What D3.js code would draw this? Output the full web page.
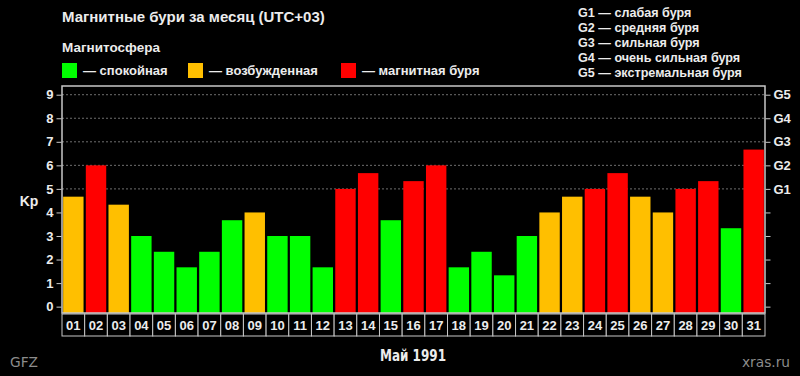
<!DOCTYPE html>
<html>
<head>
<meta charset="utf-8">
<script src="https://cdn.jsdelivr.net/npm/d3@7"></script>
<style>
  body { margin: 0; background: #000; }
  svg { display: block; font-family: "Liberation Sans", Arial, sans-serif; font-weight: bold; }
</style>
</head>
<body>
<div id="chart"></div>
<script>
// data
const days = ["01","02","03","04","05","06","07","08","09","10","11","12","13","14","15","16",
              "17","18","19","20","21","22","23","24","25","26","27","28","29","30","31"];
const kp = [4.67, 6, 4.33, 3, 2.33, 1.67, 2.33, 3.67, 4, 3, 3, 1.67, 5, 5.67, 3.67, 5.33,
            6, 1.67, 2.33, 1.33, 3, 4, 4.67, 5, 5.67, 4.67, 4, 5, 5.33, 3.33, 6.67];
const kpTicks = [0, 1, 2, 3, 4, 5, 6, 7, 8, 9];
const gLevels = ["G1", "G2", "G3", "G4", "G5"];
const gDesc = ["слабая буря", "средняя буря", "сильная буря", "очень сильная буря", "экстремальная буря"];
const states = ["спокойная", "возбужденная", "магнитная буря"];
const stateColors = ["#00ff00", "#ffbf00", "#ff0000"];

function stateOf(v) {
    if (v >= 5) return 2;
    if (v >= 4) return 1;
    return 0;
}

const W = 800, H = 376;
const plot = {left: 62, right: 765, top: 86, bottom: 313};
const textColor = "#ececec";
const narrow = "'Liberation Sans Narrow', 'DejaVu Sans Condensed', sans-serif";

const svg = d3.select("#chart").append("svg")
    .attr("width", W)
    .attr("height", H);

svg.append("rect").attr("width", W).attr("height", H).attr("fill", "#000");

// scales
const x = d3.scaleBand()
    .domain(days)
    .range([plot.left, plot.right])
    .paddingInner(0.1)
    .paddingOuter(0.05);

const y = d3.scaleLinear()
    .domain([-0.27, 9.37])
    .range([plot.bottom, plot.top]);

// title + legend
svg.append("text")
    .attr("x", 62).attr("y", 22)
    .attr("fill", textColor).attr("font-size", 15)
    .text("Магнитные бури за месяц (UTC+03)");

svg.append("text")
    .attr("x", 62).attr("y", 52)
    .attr("fill", textColor).attr("font-size", 13.5)
    .text("Магнитосфера");

const legendX = [62, 188, 341];
states.forEach((s, i) => {
    svg.append("rect")
        .attr("x", legendX[i]).attr("y", 63)
        .attr("width", 15).attr("height", 15)
        .attr("fill", stateColors[i]);
    svg.append("text")
        .attr("x", legendX[i] + 21).attr("y", 75)
        .attr("fill", textColor).attr("font-size", 13)
        .text("— " + s);
});

gLevels.forEach((g, i) => {
    svg.append("text")
        .attr("x", 578).attr("y", 17 + i * 15)
        .attr("fill", textColor).attr("font-size", 12.6)
        .text(g + " — " + gDesc[i]);
});

// grid lines at G levels
svg.append("g")
    .selectAll("line")
    .data(kpTicks.filter(d => d >= 5))
    .join("line")
    .attr("x1", plot.left).attr("x2", plot.right)
    .attr("y1", d => y(d)).attr("y2", d => y(d))
    .attr("stroke", "#6e6e6e")
    .attr("stroke-width", 1)
    .attr("stroke-dasharray", "2,2");

// bars
svg.append("g")
    .selectAll("rect")
    .data(kp)
    .join("rect")
    .attr("x", (d, i) => x(days[i]))
    .attr("width", x.bandwidth())
    .attr("y", d => y(d))
    .attr("height", d => plot.bottom - y(d))
    .attr("fill", d => stateColors[stateOf(d)]);

// frame
svg.append("rect")
    .attr("x", plot.left).attr("y", plot.top)
    .attr("width", plot.right - plot.left)
    .attr("height", plot.bottom - plot.top)
    .attr("fill", "none")
    .attr("stroke", "#c8c8c8")
    .attr("stroke-width", 1.5);

// left axis
const left = svg.append("g")
    .attr("transform", `translate(${plot.left - 0.5},0)`)
    .call(d3.axisLeft(y).tickValues(kpTicks).tickSize(5).tickPadding(3).tickFormat(d3.format("d")));
left.select(".domain").remove();
left.selectAll("line").attr("stroke", "#c8c8c8");
left.selectAll("text").attr("fill", textColor).attr("font-size", 13).attr("font-family", null);

// right axis
const right = svg.append("g")
    .attr("transform", `translate(${plot.right + 0.5},0)`)
    .call(d3.axisRight(y).tickValues(kpTicks).tickSize(5).tickPadding(3)
        .tickFormat(d => d >= 5 ? gLevels[d - 5] : ""));
right.select(".domain").remove();
right.selectAll("line").attr("stroke", "#c8c8c8");
right.selectAll("text").attr("fill", textColor).attr("font-size", 13).attr("font-family", null);

svg.append("text")
    .attr("x", 29).attr("y", 206)
    .attr("text-anchor", "middle")
    .attr("fill", textColor).attr("font-size", 14)
    .text("Kp");

// day cells under the plot
const step = x.step();
const cells = svg.append("g")
    .selectAll("g")
    .data(days)
    .join("g")
    .attr("transform", (d, i) => `translate(${plot.left + i * step},314)`);
cells.append("rect")
    .attr("width", step).attr("height", 22)
    .attr("fill", "#000")
    .attr("stroke", "#c8c8c8")
    .attr("stroke-width", 1);
cells.append("text")
    .attr("x", step / 2).attr("y", 16)
    .attr("text-anchor", "middle")
    .attr("fill", textColor).attr("font-size", 13)
    .text(d => d);

svg.append("text")
    .attr("x", 380).attr("y", 361)
    .attr("textLength", 66)
    .attr("lengthAdjust", "spacingAndGlyphs")
    .attr("fill", textColor).attr("font-size", 15)
    .attr("font-family", narrow)
    .text("Май 1991");

svg.append("text")
    .attr("x", 10).attr("y", 367)
    .attr("textLength", 28)
    .attr("lengthAdjust", "spacingAndGlyphs")
    .attr("fill", "#8c8c8c").attr("font-size", 14)
    .attr("font-family", narrow)
    .attr("font-weight", "normal")
    .text("GFZ");

svg.append("text")
    .attr("x", 742).attr("y", 367)
    .attr("textLength", 48)
    .attr("lengthAdjust", "spacingAndGlyphs")
    .attr("fill", "#8c8c8c").attr("font-size", 14)
    .attr("font-family", narrow)
    .attr("font-weight", "normal")
    .text("xras.ru");
</script>
</body>
</html>
